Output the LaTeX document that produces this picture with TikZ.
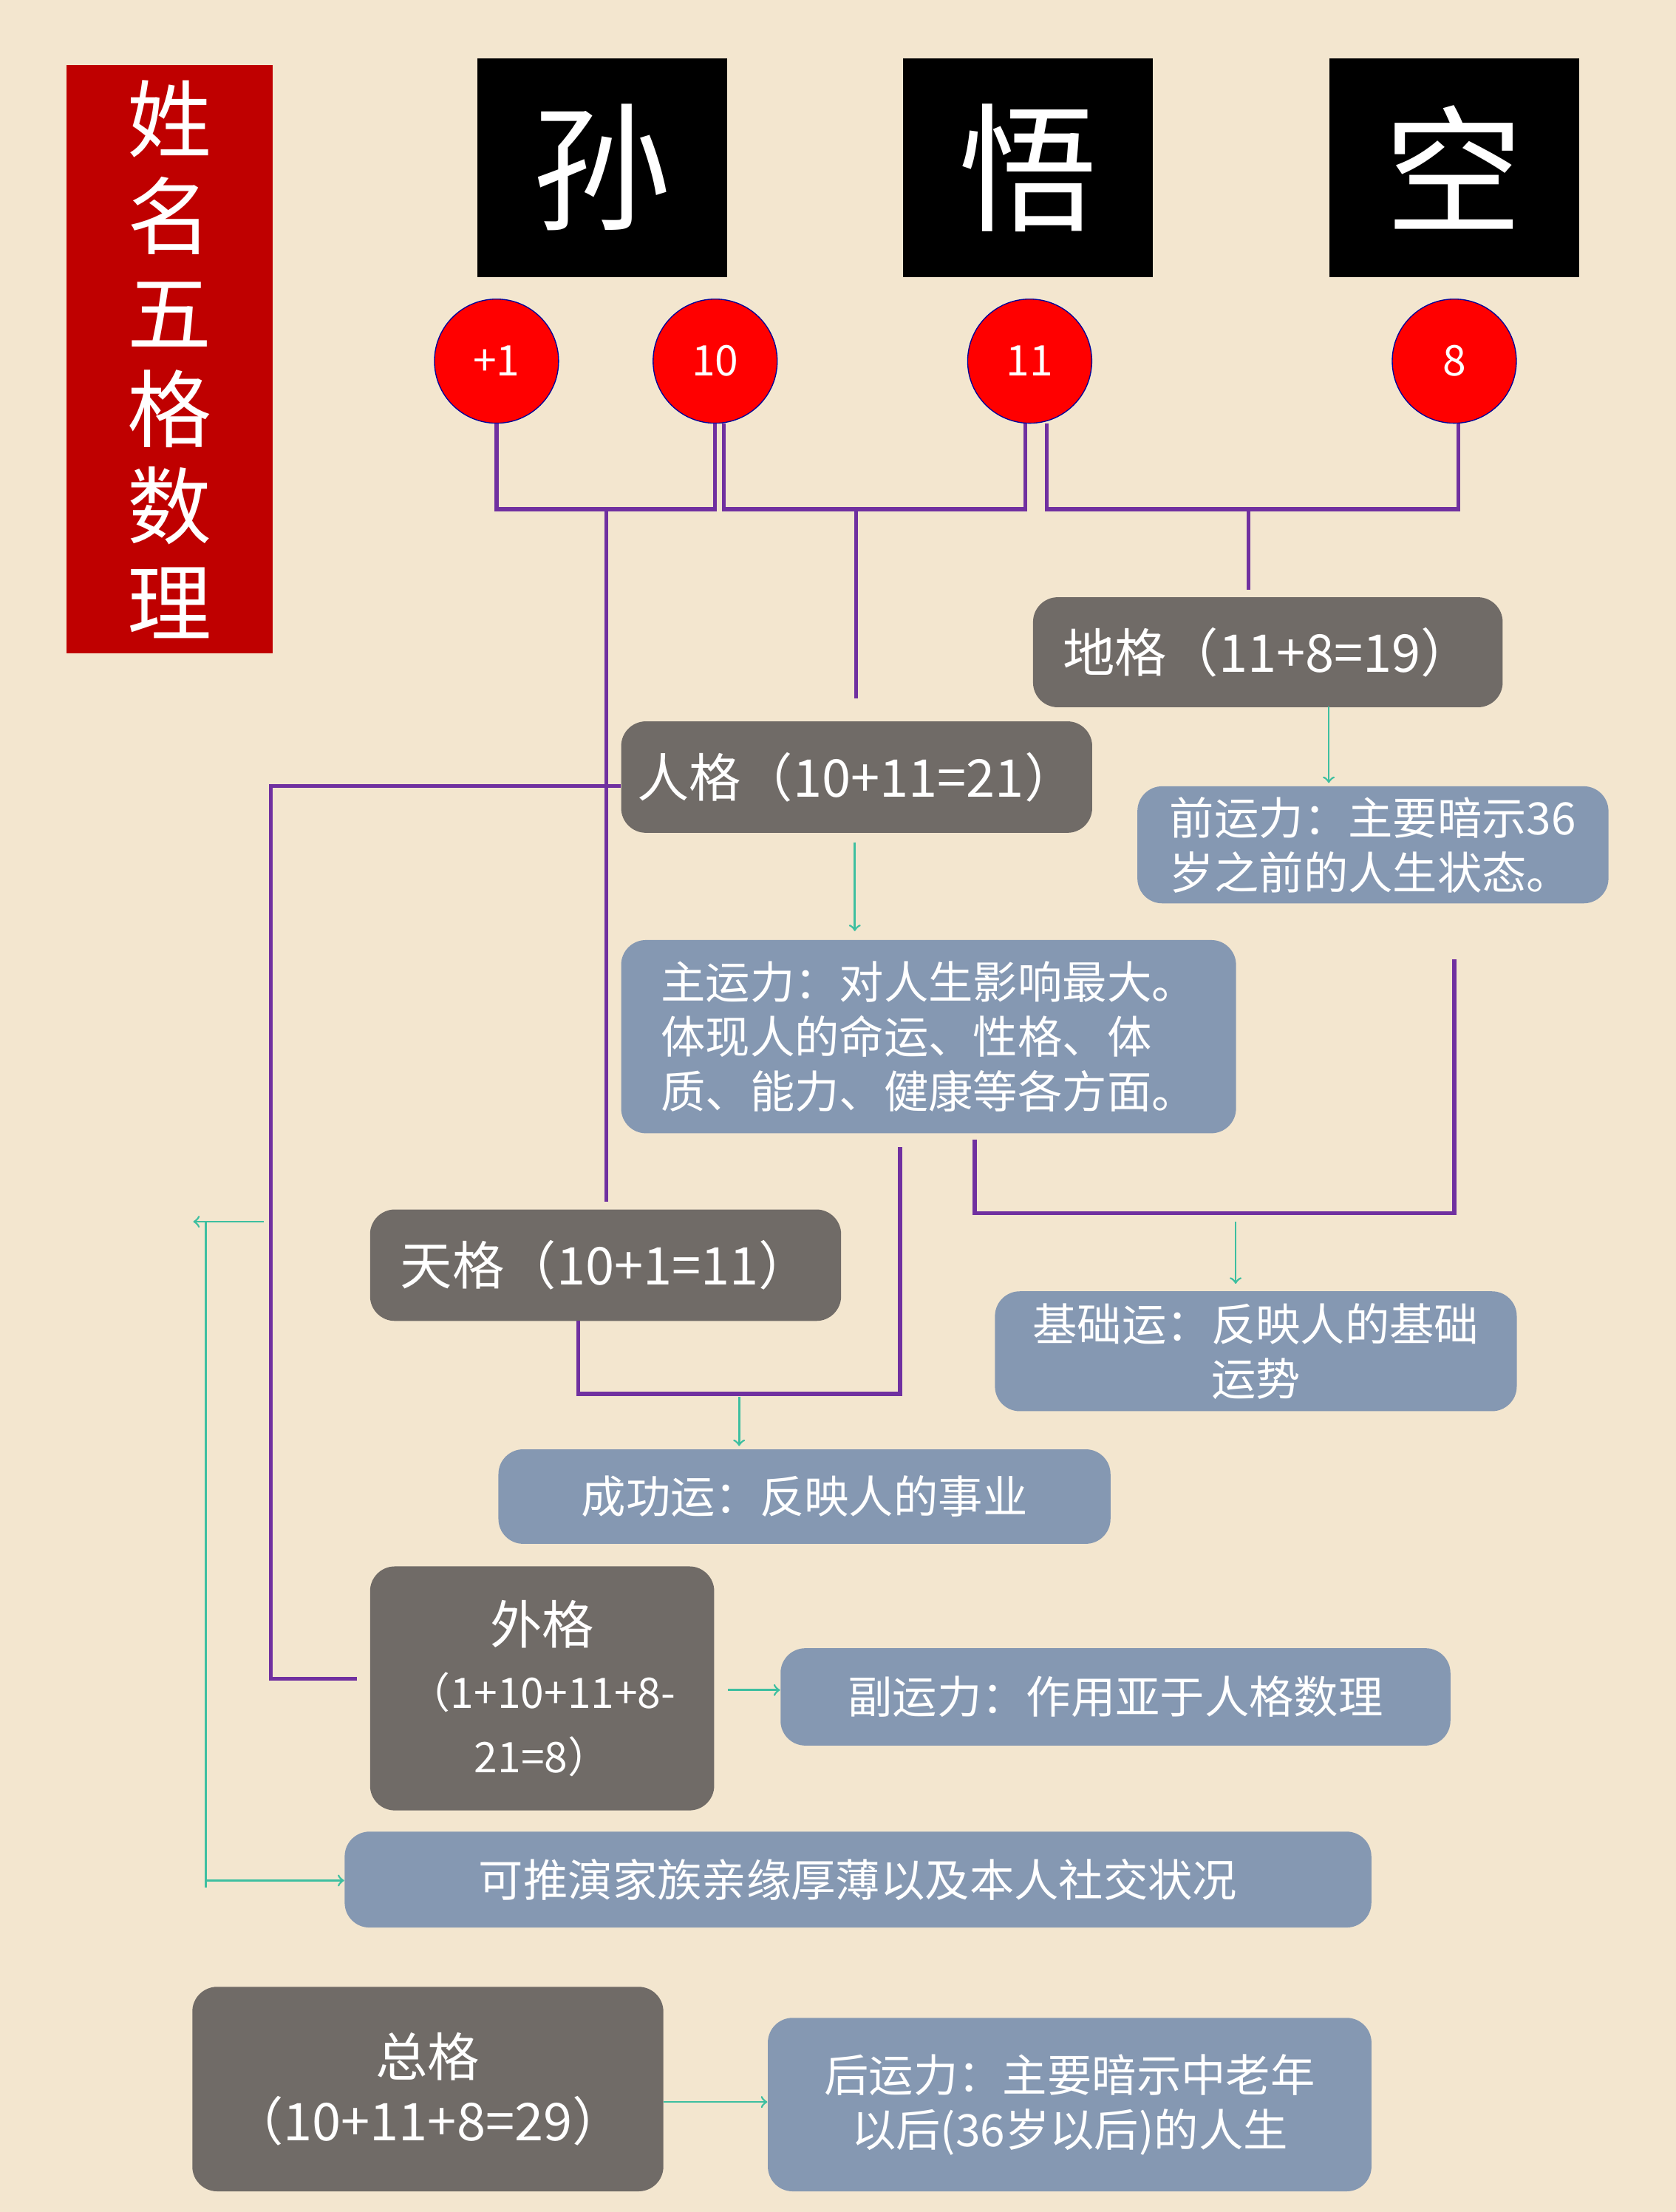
\documentclass[tikz,border=0pt]{standalone}
\usepackage{fontspec}
\setmainfont{Noto Sans CJK SC}
\usetikzlibrary{calc}
\definecolor{paper}{HTML}{F3E6CF}
\definecolor{darkgrey}{HTML}{706B67}
\definecolor{steel}{HTML}{8598B2}
\definecolor{linkpurple}{HTML}{7030A0}
\definecolor{linkteal}{HTML}{3DBFA0}
\tikzset{
  gebox/.style={fill=darkgrey, rounded corners=10pt, text=white, font=\fontsize{21}{26}\selectfont, inner sep=0pt},
  yunbox/.style={fill=steel, rounded corners=10pt, text=white, font=\fontsize{18}{22}\selectfont, inner sep=0pt},
  charbox/.style={fill=black, text=white, minimum width=3.54cm, minimum height=3.1cm, font=\fontsize{56}{60}\selectfont, inner sep=0pt},
  numdot/.style={circle, fill=red, draw=blue!60!black, minimum size=1.76cm, text=white, font=\fontsize{17}{20}\selectfont, inner sep=0pt},
  link/.style={draw=linkpurple, line width=1.6pt},
  flow/.style={draw=linkteal, line width=0.8pt, -to},
}
\begin{document}
\begin{tikzpicture}[x=0.02cm, y=-0.02cm]
\fill[paper] (0,0) rectangle (1188,1568);
\useasboundingbox (0,0) rectangle (1188,1568);
% title
\node[fill=red!75!black, minimum width=2.92cm, minimum height=8.34cm, anchor=north west, text=white,
  font=\fontsize{34}{39}\selectfont, align=center, inner sep=0pt] (title) at (47,46)
  {姓\\名\\五\\格\\数\\理};
% name characters
\node[charbox, anchor=north west] (sun) at (338,41) {孙};
\node[charbox, anchor=north west] (wu) at (640,41) {悟};
\node[charbox, anchor=north west] (kong) at (942,41) {空};
\node[numdot] (n1) at (352,256) {+1};
\node[numdot] (n2) at (507,256) {10};
\node[numdot] (n3) at (730,256) {11};
\node[numdot] (n4) at (1031,256) {8};
% boxes
\node[gebox, minimum width=6.66cm, minimum height=1.56cm, anchor=north west] (dige) at (732,423) {地格（11+8=19）};
\node[yunbox, minimum width=6.68cm, minimum height=1.66cm, anchor=north west, align=left] (qian) at (806,557) {前运力：主要暗示36\\岁之前的人生状态。};
\node[gebox, minimum width=6.68cm, minimum height=1.58cm, anchor=north west] (renge) at (440,511) {人格（10+11=21）};
\node[yunbox, minimum width=8.72cm, minimum height=2.74cm, anchor=north west, align=left] (zhu) at (440,666) {主运力：对人生影响最大。\\体现人的命运、性格、体\\质、能力、健康等各方面。};
\node[yunbox, minimum width=7.4cm, minimum height=1.7cm, anchor=north west, align=center] (jichu) at (705,915) {基础运：反映人的基础\\运势};
\node[gebox, minimum width=6.68cm, minimum height=1.58cm, anchor=north west] (tiange) at (262,857) {天格（10+1=11）};
\node[yunbox, minimum width=8.68cm, minimum height=1.34cm, anchor=north west] (cheng) at (353,1027) {成功运：反映人的事业};
\node[gebox, minimum width=4.88cm, minimum height=3.46cm, anchor=north west, align=center] (waige) at (262,1110)
  {外格\\{\fontsize{17}{22}\selectfont （1+10+11+8-}\\{\fontsize{17}{22}\selectfont 21=8）}};
\node[yunbox, minimum width=9.5cm, minimum height=1.38cm, anchor=north west] (fu) at (553,1168) {副运力：作用亚于人格数理};
\node[yunbox, minimum width=14.56cm, minimum height=1.36cm, anchor=north west] (tui) at (244,1298) {可推演家族亲缘厚薄以及本人社交状况};
\node[gebox, minimum width=6.68cm, minimum height=2.9cm, anchor=north west, align=center] (zong) at (136,1408) {总格\\（10+11+8=29）};
\node[yunbox, minimum width=8.56cm, minimum height=2.46cm, anchor=north west, align=center] (hou) at (544,1430) {后运力：主要暗示中老年\\以后(36岁以后)的人生};
% purple brackets
\draw[link] (n1.south) -- (352,361) -- (507,361) -- (n2.south);
\draw[link] (513,300) -- (513,361) -- (727,361) -- (727,300);
\draw[link] (742,300) -- (742,361) -- (1034,361) -- (1034,300);
\draw[link] (430,361) -- (430,852);
\draw[link] (607,361) -- (607,495);
\draw[link] (885,361) -- (885,418);
\draw[link] (renge.west |- 0,557) -- (192,557) -- (192,1190) -- (253,1190);
\draw[link] (691,808) -- (691,860) -- (1031,860) -- (1031,680);
\draw[link] (410,936) -- (410,988) -- (638,988) -- (638,813);
% teal arrows
\draw[flow] (942,501) -- (942,555);
\draw[flow] (606,597) -- (606,660);
\draw[flow] (876,866) -- (876,910);
\draw[flow] (524,990) -- (524,1025);
\draw[flow] (516,1198) -- (fu.west |- 0,1198);
\draw[flow] (187,866) -- (137,866);
\draw[draw=linkteal, line width=0.8pt] (146,866) -- (146,1338);
\draw[flow] (146,1333) -- (tui.west |- 0,1333);
\draw[flow] (zong.east |- 0,1490) -- (hou.west |- 0,1490);
\end{tikzpicture}
\end{document}
